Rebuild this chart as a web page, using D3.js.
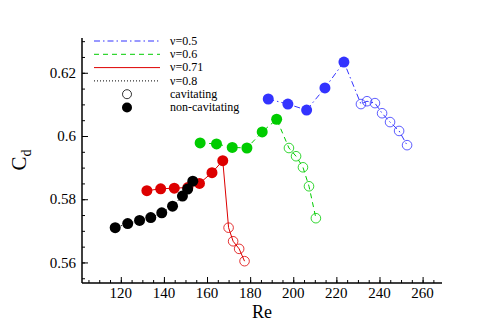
<!DOCTYPE html>
<html>
<head>
<meta charset="utf-8">
<script src="https://cdn.jsdelivr.net/npm/d3@7"></script>
<style>
  body { margin: 0; background: #fff; }
</style>
</head>
<body>
<svg id="chart" width="481" height="321"></svg>
<script>
// nu = 0.8 (non-cavitating only)
const re_08 = [117.4, 123.2, 128.7, 133.9, 139.0, 144.0, 148.6, 151.0, 153.4];
const cd_08 = [0.5710, 0.5723, 0.5733, 0.5742, 0.5757, 0.5778, 0.5810, 0.5832, 0.5857];

// nu = 0.71
const re_071 = [132.1, 138.5, 144.8, 151.1, 156.5, 162.3, 167.3];
const cd_071 = [0.5827, 0.5833, 0.5835, 0.5837, 0.5850, 0.5884, 0.5922];
const re_071_cav = [170.0, 172.1, 174.9, 177.4];
const cd_071_cav = [0.5710, 0.5667, 0.5643, 0.5604];

// nu = 0.6
const re_06 = [156.8, 164.4, 171.7, 178.5, 185.6, 192.3];
const cd_06 = [0.5978, 0.5975, 0.5964, 0.5962, 0.6013, 0.6053];
const re_06_cav = [198.0, 201.3, 204.5, 207.3, 210.5];
const cd_06_cav = [0.5962, 0.5936, 0.5901, 0.5841, 0.5740];

// nu = 0.5
const re_05 = [188.4, 197.5, 206.2, 214.7, 223.5];
const cd_05 = [0.6117, 0.6101, 0.6082, 0.6152, 0.6234];
const re_05_cav = [231.4, 234.2, 237.9, 241.2, 244.9, 249.1, 252.8];
const cd_05_cav = [0.6101, 0.6110, 0.6104, 0.6072, 0.6044, 0.6016, 0.5971];

const x_ticks = [120, 140, 160, 180, 200, 220, 240, 260];
const y_ticks = [0.56, 0.58, 0.6, 0.62];
const legend_labels = ['\u03bd=0.5', '\u03bd=0.6', '\u03bd=0.71', '\u03bd=0.8', 'cavitating', 'non-cavitating'];

const zip = (re, cd) => re.map((r, i) => ({ re: r, cd: cd[i] }));

const series = [
  { name: '0.71', color: '#dd0000', dash: null, solid: zip(re_071, cd_071), cav: zip(re_071_cav, cd_071_cav) },
  { name: '0.8', color: '#000000', dash: '1,2', solid: zip(re_08, cd_08), cav: [] },
  { name: '0.6', color: '#00cc00', dash: '5,4', solid: zip(re_06, cd_06), cav: zip(re_06_cav, cd_06_cav) },
  { name: '0.5', color: '#3333ff', dash: '6,3,1.5,3', solid: zip(re_05, cd_05), cav: zip(re_05_cav, cd_05_cav) },
];

const svg = d3.select('#chart')
  .attr('font-family', "'Liberation Serif', 'Times New Roman', 'DejaVu Serif', serif");
const m_left = 82, m_right = 442, m_top = 38, m_bottom = 283;

const x = d3.scaleLinear([102, 269], [m_left, m_right]);
const y = d3.scaleLinear([0.5535, 0.631], [m_bottom, m_top]);

// axes, ticks pointing inward
const x_axis = svg.append('g').attr('transform', `translate(0,${m_bottom})`);
x_axis.append('g')
  .call(d3.axisTop(x).tickValues(d3.range(105, 270, 5)).tickSize(3).tickFormat(''))
  .call(g => g.select('.domain').remove());
x_axis.append('g')
  .call(d3.axisTop(x).tickValues(x_ticks).tickSize(6).tickFormat(''))
  .call(g => g.select('.domain').remove());
x_axis.append('line')
  .attr('x1', m_left).attr('x2', m_right)
  .attr('stroke', '#000').attr('stroke-width', 1.5);
x_axis.selectAll('.xlab')
  .data(x_ticks)
  .join('text')
  .attr('class', 'xlab')
  .attr('x', d => x(d))
  .attr('y', 15)
  .attr('text-anchor', 'middle')
  .attr('font-size', 15)
  .text(d => d);

const y_axis = svg.append('g').attr('transform', `translate(${m_left},0)`);
y_axis.append('g')
  .call(d3.axisRight(y).tickValues(d3.range(0.555, 0.631, 0.005)).tickSize(3).tickFormat(''))
  .call(g => g.select('.domain').remove());
y_axis.append('g')
  .call(d3.axisRight(y).tickValues(y_ticks).tickSize(6).tickFormat(''))
  .call(g => g.select('.domain').remove());
y_axis.append('line')
  .attr('y1', m_top).attr('y2', m_bottom)
  .attr('stroke', '#000').attr('stroke-width', 1.5);
y_axis.selectAll('.ylab')
  .data(y_ticks)
  .join('text')
  .attr('class', 'ylab')
  .attr('x', -6)
  .attr('y', d => y(d))
  .attr('dy', '0.35em')
  .attr('text-anchor', 'end')
  .attr('font-size', 15)
  .text(d => d3.format('')(d));

// axis titles
svg.append('text')
  .attr('x', 262)
  .attr('y', 318)
  .attr('text-anchor', 'middle')
  .attr('font-size', 18)
  .text('Re');
const y_title = svg.append('text')
  .attr('transform', 'translate(26,160) rotate(-90)')
  .attr('text-anchor', 'middle')
  .attr('font-size', 21);
y_title.append('tspan').text('C');
y_title.append('tspan').attr('font-size', 14).attr('dy', 5).text('d');

// curves
const line = d3.line().x(d => x(d.re)).y(d => y(d.cd));
const plot = svg.append('g');
series.forEach(s => {
  const g = plot.append('g');
  g.append('path')
    .datum(s.solid.concat(s.cav))
    .attr('fill', 'none')
    .attr('stroke', s.color)
    .attr('stroke-width', 1)
    .attr('stroke-dasharray', s.dash)
    .attr('d', line);
  g.selectAll('circle.cav')
    .data(s.cav)
    .join('circle')
    .attr('class', 'cav')
    .attr('cx', d => x(d.re))
    .attr('cy', d => y(d.cd))
    .attr('r', 4.8)
    .attr('fill', 'none')
    .attr('stroke', s.color)
    .attr('stroke-width', 0.8);
  g.selectAll('circle.full')
    .data(s.solid)
    .join('circle')
    .attr('class', 'full')
    .attr('cx', d => x(d.re))
    .attr('cy', d => y(d.cd))
    .attr('r', 5.5)
    .attr('fill', s.color);
});

// legend
const legend_lines = [
  { color: '#3333ff', dash: '6,3,1.5,3' },
  { color: '#00cc00', dash: '5,4' },
  { color: '#dd0000', dash: null },
  { color: '#000000', dash: '1,2' },
];
const legend_y = [41, 54.3, 67.6, 80.9, 94.2, 107.5];
const legend = svg.append('g');
legend.selectAll('line')
  .data(legend_lines)
  .join('line')
  .attr('x1', 94).attr('x2', 160)
  .attr('y1', (d, i) => legend_y[i]).attr('y2', (d, i) => legend_y[i])
  .attr('stroke', d => d.color)
  .attr('stroke-width', 1)
  .attr('stroke-dasharray', d => d.dash);
legend.append('circle')
  .attr('cx', 127).attr('cy', legend_y[4]).attr('r', 4.5)
  .attr('fill', 'none').attr('stroke', '#000').attr('stroke-width', 0.8);
legend.append('circle')
  .attr('cx', 127).attr('cy', legend_y[5]).attr('r', 5)
  .attr('fill', '#000');
legend.selectAll('text')
  .data(legend_labels)
  .join('text')
  .attr('x', 170)
  .attr('y', (d, i) => legend_y[i])
  .attr('dy', '0.32em')
  .attr('font-size', 12)
  .text(d => d);
</script>
</body>
</html>
